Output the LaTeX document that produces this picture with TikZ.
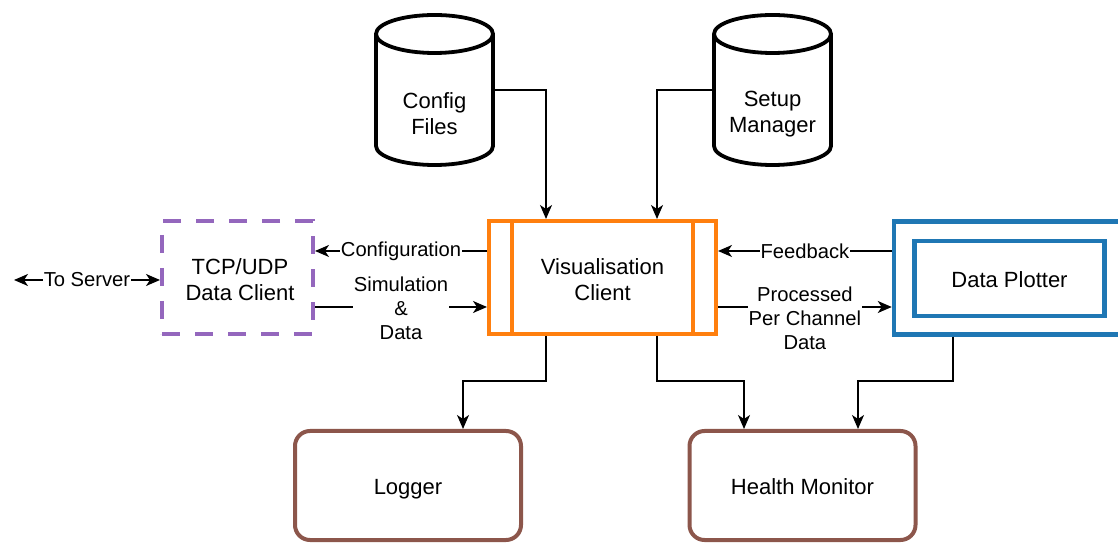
\documentclass[tikz,border=0pt]{standalone}
\usepackage{fontspec}
\setmainfont{Liberation Sans}
\usetikzlibrary{arrows.meta,calc}
\definecolor{cpurple}{HTML}{9467BD}
\definecolor{corange}{HTML}{FF7F0E}
\definecolor{cblue}{HTML}{1F77B4}
\definecolor{cbrown}{HTML}{8C564B}
\begin{document}
\begin{tikzpicture}[x=1pt,y=1pt,
  boxtext/.style={font=\fontsize{22}{26}\selectfont, align=center},
  lbl/.style={font=\fontsize{20.2}{24}\selectfont, align=center, fill=white, inner sep=1pt},
  conn/.style={line width=1.6pt, -{Stealth[length=14pt,width=12pt,inset=4pt]}},
  cylline/.style={line width=3.8pt},
  purplebox/.style={draw=cpurple, line width=4pt, dash pattern=on 18pt off 15pt, minimum width=151pt, minimum height=113pt},
  orangebox/.style={draw=corange, line width=4pt, minimum width=227pt, minimum height=113pt},
  bluebox/.style={draw=cblue, line width=4.5pt},
  brownbox/.style={draw=cbrown, line width=4pt, rounded corners=15pt, minimum width=226pt, minimum height=109pt}
]
\useasboundingbox (0,0) rectangle (1118,543);
\clip (0,0) rectangle (1118,543);

% cylinders
\node[minimum width=117pt, minimum height=150pt, inner sep=0] (cfg) at (434.5,453) {};
\node[boxtext] (cfgtxt) at (434.5,429) {Config\\Files};
\draw[cylline] (376,509) -- (376,397) arc (180:360:58.5 and 19) -- (493,509) arc (0:180:58.5 and 19) arc (180:360:58.5 and 19);

\node[minimum width=117pt, minimum height=150pt, inner sep=0] (setup) at (772.5,453) {};
\node[boxtext] (setuptxt) at (772.5,429) {Setup\\Manager};
\draw[cylline] (714,509) -- (714,397) arc (180:360:58.5 and 19) -- (831,509) arc (0:180:58.5 and 19) arc (180:360:58.5 and 19);

% visualisation client
\node[orangebox] (vis) at (602.5,265.5) {};
\draw[corange, line width=4pt] (512,322) -- (512,209) (693,322) -- (693,209);
\node[boxtext] (vistxt) at (602.5,263) {Visualisation\\Client};

% TCP/UDP
\node[purplebox] (tcp) at (237.5,265.5) {};
\node[boxtext] (tcptxt) at (240,263) {TCP/UDP\\Data Client};

% Data plotter
\node[bluebox, minimum width=240pt, minimum height=113pt] (dp) at (1014,265) {};
\node[bluebox, minimum width=190pt, minimum height=75pt] (dpin) at (1009.5,264.5) {};
\node[boxtext] (dptxt) at (1009.5,263.5) {Data Plotter};

% Logger, Health
\node[brownbox] (log) at (408,57.5) {};
\node[boxtext] (logtxt) at (408,53.5) {Logger};
\node[brownbox] (hm) at (802.5,57.5) {};
\node[boxtext] (hmtxt) at (802.5,56) {Health Monitor};

% connector coordinates
\coordinate (srv) at (14,263);
\coordinate (visbl) at ([xshift=59pt]vis.south west);
\coordinate (visbr) at ([xshift=170pt]vis.south west);
\coordinate (vistl) at ([xshift=59pt]vis.north west);
\coordinate (vistr) at ([xshift=170pt]vis.north west);
\coordinate (dpb) at (dp.south -| 953,0);
\coordinate (login) at ([xshift=55pt]log.north);
\coordinate (hmin1) at ([xshift=-58.5pt]hm.north);
\coordinate (hmin2) at ([xshift=55.5pt]hm.north);
\coordinate (b1) at (visbl |- 0,162);
\coordinate (b2) at (visbr |- 0,162);
\coordinate (b3) at (dpb |- 0,162);

\draw[line width=1.6pt, {Stealth[length=14pt,width=12pt,inset=4pt]}-{Stealth[length=14pt,width=12pt,inset=4pt]}] (srv) -- (tcp.west|-srv) node[lbl, midway] {To Server};

\draw[conn] (cfg.east) -| (vistl);
\draw[conn] (setup.west) -| (vistr);

\draw[conn] ([yshift=26.5pt]vis.west) -- ([yshift=26.5pt]tcp.east) node[lbl, midway] {Configuration};
\draw[conn] ([yshift=-29.5pt]tcp.east) -- ([yshift=-29.5pt]vis.west) node[lbl, midway, yshift=-1pt] {Simulation\\\&\\Data};

\draw[conn] ([yshift=26.5pt]vis.east-|dp.west) -- ([yshift=26.5pt]vis.east) node[lbl, midway] {Feedback};
\draw[conn] ([yshift=-29.5pt]vis.east) -- ([yshift=-29.5pt]vis.east-|dp.west) node[lbl, midway, yshift=-11pt] {Processed\\Per Channel\\Data};

\draw[conn] (visbl) -- (b1) -| (login);
\draw[conn] (visbr) -- (b2) -| (hmin1);
\draw[conn] (dpb) -- (b3) -| (hmin2);
\end{tikzpicture}
\end{document}
